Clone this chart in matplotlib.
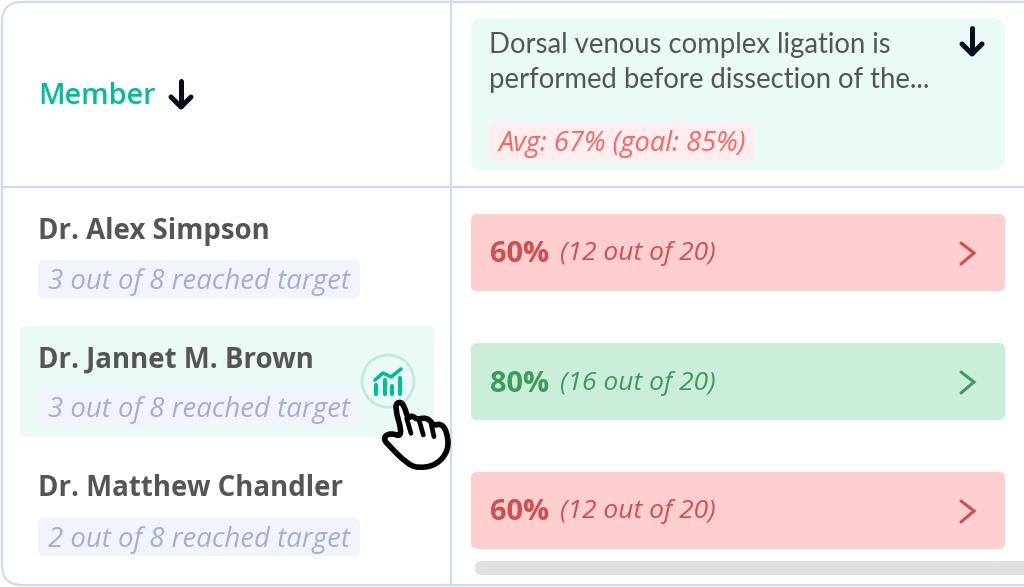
"""Member results table, redrawn on a pixel-sized axes."""

import matplotlib
matplotlib.use('Agg')
import matplotlib.pyplot as plt
from matplotlib.patches import FancyBboxPatch, Circle, PathPatch
from matplotlib.path import Path

# Table content
members = ['Dr. Alex Simpson', 'Dr. Jannet M. Brown', 'Dr. Matthew Chandler']
reached = [3, 3, 2]
targets_total = 8
percents = [60, 80, 60]
counts = [12, 16, 12]
totals = [20, 20, 20]
goal = 85
average = 67
question_lines = ['Dorsal venous complex ligation is', 'performed before dissection of the...']

W, H = 1024, 587
FONT = 'Lato'
WIDE = 'Open Sans'
LINE = '#d0d9ef'
MINT = '#eafaf7'
TEAL = '#00bf98'
DARK = '#050c1a'
GREY = '#555555'
TAG_BG = '#f2f4fc'
TAG_TEXT = '#a3aed4'
RED_STYLE = ('#ffcfcf', '#d24f4f')
GREEN_STYLE = ('#cbeedb', '#3d9c5c')


def px(size):
    # font size given in image pixels
    return size * 0.72


def box(ax, x0, y0, x1, y1, color, radius, **kw):
    patch = FancyBboxPatch((x0 + radius, y0 + radius), x1 - x0 - 2 * radius, y1 - y0 - 2 * radius,
                           boxstyle=f'round,pad={radius},rounding_size={radius}',
                           facecolor=color, edgecolor='none', linewidth=0, **kw)
    ax.add_patch(patch)
    return patch


def down_arrow(ax, x, y0, y1):
    ax.plot([x, x], [y0, y1 - 1], color=DARK, lw=3.6, solid_capstyle='round')
    ax.plot([x - 10, x, x + 10], [y1 - 10, y1, y1 - 10], color=DARK, lw=3.6,
            solid_capstyle='round', solid_joinstyle='round')


fig = plt.figure(figsize=(W / 100, H / 100), dpi=100)
ax = fig.add_axes([0, 0, 1, 1])
ax.set_xlim(0, W)
ax.set_ylim(H, 0)
ax.axis('off')

# Table frame and grid
frame = FancyBboxPatch((22, 22), W + 40, H - 44, boxstyle='round,pad=20,rounding_size=20',
                       facecolor='white', edgecolor=LINE, linewidth=1.6)
ax.add_patch(frame)
ax.plot([2, W], [187, 187], color=LINE, lw=1.6)
ax.plot([451, 451], [1, 585], color=LINE, lw=1.6)

# Header
ax.text(38, 97, 'Member', color=TEAL, fontsize=px(28.8), family=WIDE, weight='semibold', va='center')
down_arrow(ax, 181, 81, 107)

box(ax, 471, 18, 1005, 170, MINT, 12)
ax.text(489, 45, question_lines[0], color=GREY, fontsize=px(27.5), family=FONT, va='center')
ax.text(489, 80, question_lines[1], color=GREY, fontsize=px(27.5), family=FONT, va='center')
down_arrow(ax, 972, 28, 54)
box(ax, 489, 122, 755, 160, '#ffeeee', 6)
ax.text(499, 143.5, f'Avg: {average}% (goal: {goal}%)', color='#ff6464', fontsize=px(27.3),
        family=WIDE, style='italic', va='center')

# Highlighted row behind the second member
box(ax, 20, 326, 434, 437, MINT, 6)

for i, name in enumerate(members):
    top = 129 * i
    ax.text(38, 231 + top, name, color=GREY, fontsize=px(27.6), family=WIDE, weight='bold', va='center')
    box(ax, 38, 260 + top, 360, 298 + top, TAG_BG, 6)
    ax.text(48, 281.5 + top, f'{reached[i]} out of {targets_total} reached target', color=TAG_TEXT,
            fontsize=px(27.6), family=WIDE, style='italic', va='center')

    bg, fg = GREEN_STYLE if percents[i] >= goal - 5 else RED_STYLE
    box(ax, 471, 214 + top, 1005, 291 + top, bg, 6)
    ax.text(490, 255 + top, f'{percents[i]}%', color=fg, fontsize=px(29), family=WIDE, weight='bold', va='center')
    ax.text(560, 254 + top, f'({counts[i]} out of {totals[i]})', color=fg, fontsize=px(26.4),
            family=WIDE, style='italic', va='center')
    ax.plot([961, 974, 961], [243 + top, 253 + top, 264 + top], color=fg, lw=2.2,
            solid_capstyle='round', solid_joinstyle='miter')

# Scroll bar
box(ax, 475, 561, 1030, 575, '#e0e0e0', 7)

# Chart icon in a circle
ax.add_patch(Circle((388, 381), 26, facecolor=MINT, edgecolor='#bdebe0', linewidth=2))
for bar_x, bar_top in [(376, 385), (385, 380), (392, 386), (400, 378)]:
    ax.plot([bar_x, bar_x], [bar_top, 394], color=TEAL, lw=3.0, solid_capstyle='round')
ax.plot([375, 383, 391, 401], [380, 373, 377, 369], color=TEAL, lw=2.6,
        solid_capstyle='round', solid_joinstyle='round')

# Pointer hand, smoothed through the midpoints of its outline
hand = [(163, 198), (178, 184), (192, 195), (204, 238), (215, 225), (232, 240), (248, 233), (268, 238),
        (282, 258), (300, 250), (320, 270), (327, 330), (290, 375), (235, 385), (200, 370), (150, 320),
        (128, 295), (150, 278), (190, 292)]
hand_xy = [(340 + x / 3, 340 + y / 3) for x, y in hand]
n = len(hand_xy)
mid = lambda a, b: ((a[0] + b[0]) / 2, (a[1] + b[1]) / 2)
verts = [mid(hand_xy[-1], hand_xy[0])]
codes = [Path.MOVETO]
for k in range(n):
    verts += [hand_xy[k], mid(hand_xy[k], hand_xy[(k + 1) % n])]
    codes += [Path.CURVE3, Path.CURVE3]
ax.add_patch(PathPatch(Path(verts, codes), facecolor='white', edgecolor='black', linewidth=4.0,
                       joinstyle='round', zorder=5))
for (x0, y0), (x1, y1) in [((200, 235), (213, 280)), ((238, 243), (250, 285)), ((272, 245), (282, 290))]:
    ax.plot([340 + x0 / 3, 340 + x1 / 3], [340 + y0 / 3, 340 + y1 / 3], color='black', lw=3.4,
            solid_capstyle='round', zorder=6)

fig.savefig('out.png', dpi=100)
plt.close(fig)
